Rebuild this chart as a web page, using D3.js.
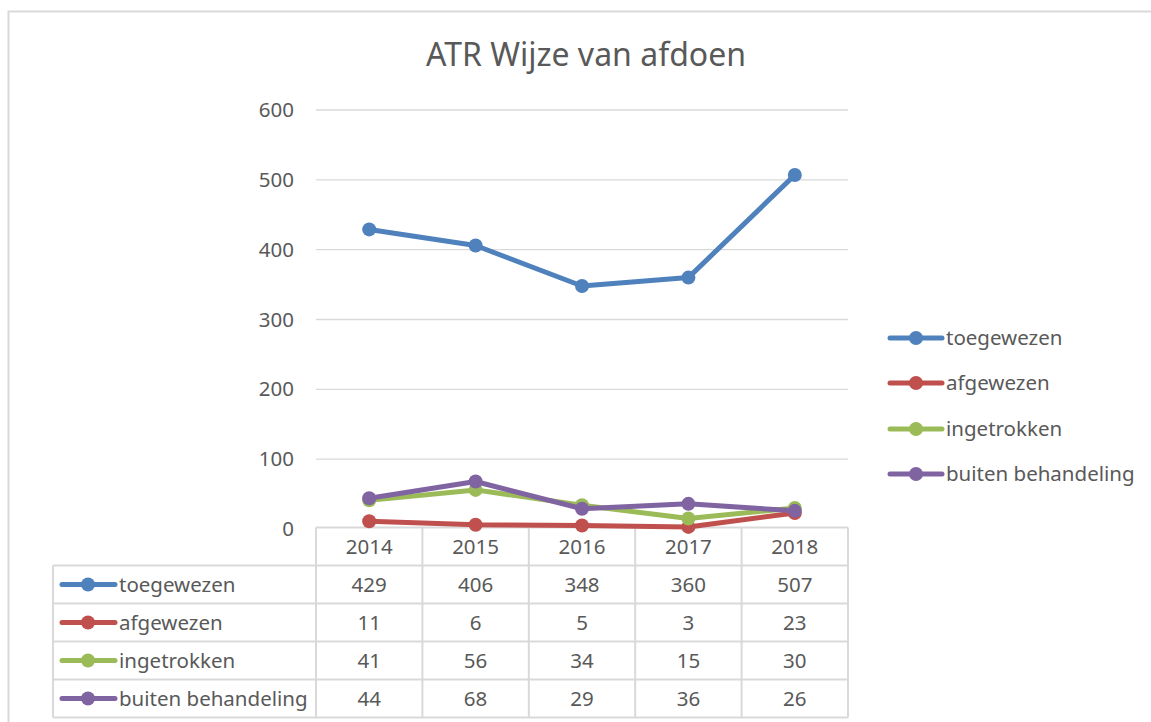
<!DOCTYPE html>
<html><head><meta charset="utf-8">
<script src="https://cdn.jsdelivr.net/npm/d3@7"></script>
<style>body{margin:0;background:#fff;} svg{display:block;}</style>
</head><body>
<script>
const categories = ["2014","2015","2016","2017","2018"];
const seriesNames = ["toegewezen","afgewezen","ingetrokken","buiten behandeling"];
const toegewezen = [429,406,348,360,507];
const afgewezen = [11,6,5,3,23];
const ingetrokken = [41,56,34,15,30];
const buitenBehandeling = [44,68,29,36,26];
const yTicks = [0,100,200,300,400,500,600];
const colors = ["#4F81BD","#C0504D","#9BBB59","#8064A2"];
const title = "ATR Wijze van afdoen";

const series = [toegewezen, afgewezen, ingetrokken, buitenBehandeling].map((v,i)=>({name:seriesNames[i], values:v, color:colors[i]}));

const W=1151,H=722;
const svg=d3.select("body").append("svg").attr("width",W).attr("height",H);
const font="'Noto Sans', sans-serif";
const txt="#595959", grid="#d9d9d9";
const fs=20.5, lw=5, mr=7;

// chart border
svg.append("rect").attr("x",8.5).attr("y",11.5).attr("width",1160).attr("height",730).attr("fill","none").attr("stroke","#d9d9d9").attr("stroke-width",2);

svg.append("text").attr("x",586).attr("y",66).attr("text-anchor","middle").attr("font-family",font).attr("font-size",32).attr("fill",txt).text(title);

const x0=316,x1=848;
const x=d3.scaleBand().domain(categories).range([x0,x1]);
const y=d3.scaleLinear().domain([0,600]).range([529,110]);

// gridlines
svg.append("g").selectAll("line").data(yTicks.filter(d=>d>0)).join("line")
 .attr("x1",x0).attr("x2",x1).attr("y1",d=>y(d)).attr("y2",d=>y(d)).attr("stroke",grid).attr("stroke-width",1.3);

const yAxis=d3.axisLeft(y).tickValues(yTicks).tickSize(0).tickPadding(22);
const ga=svg.append("g").attr("transform",`translate(${x0},0)`).call(yAxis);
ga.select(".domain").remove();
ga.selectAll("text").attr("font-family",font).attr("font-size",fs).attr("fill",txt);

// table
const rowH=38, tTop=527.5, lx=53;
const tb=svg.append("g");
const hl=[0,1,2,3,4,5];
tb.selectAll("line.h").data(hl).join("line").attr("class","h")
 .attr("x1",(d)=>d===0?x0:lx).attr("x2",x1).attr("y1",d=>tTop+d*rowH).attr("y2",d=>tTop+d*rowH).attr("stroke",grid).attr("stroke-width",2);
const vx=categories.map(c=>x(c)).concat([x1]);
tb.selectAll("line.v").data(vx).join("line").attr("class","v")
 .attr("x1",d=>d).attr("x2",d=>d).attr("y1",tTop).attr("y2",tTop+5*rowH).attr("stroke",grid).attr("stroke-width",2);
tb.append("line").attr("x1",lx).attr("x2",lx).attr("y1",tTop+rowH).attr("y2",tTop+5*rowH).attr("stroke",grid).attr("stroke-width",2);
tb.selectAll("text.hd").data(categories).join("text").attr("class","hd")
 .attr("x",d=>x(d)+x.bandwidth()/2).attr("y",tTop+rowH/2).attr("dy","0.35em").attr("text-anchor","middle")
 .attr("font-family",font).attr("font-size",fs).attr("fill",txt).text(d=>d);
series.forEach((s,i)=>{
  const cy=tTop+(i+1)*rowH+rowH/2;
  tb.append("line").attr("x1",62).attr("x2",115).attr("y1",cy).attr("y2",cy).attr("stroke",s.color).attr("stroke-width",lw).attr("stroke-linecap","round");
  tb.append("circle").attr("cx",88).attr("cy",cy).attr("r",mr).attr("fill",s.color);
  tb.append("text").attr("x",119).attr("y",cy).attr("dy","0.35em").attr("font-family",font).attr("font-size",fs).attr("fill",txt).text(s.name);
  tb.selectAll(null).data(s.values).join("text")
   .attr("x",(d,j)=>x(categories[j])+x.bandwidth()/2).attr("y",cy).attr("dy","0.35em").attr("text-anchor","middle")
   .attr("font-family",font).attr("font-size",fs).attr("fill",txt).text(d=>d);
});

// lines
const line=d3.line().x((d,j)=>x(categories[j])+x.bandwidth()/2).y(d=>y(d));
series.forEach(s=>{
  svg.append("path").datum(s.values).attr("d",line).attr("fill","none").attr("stroke",s.color).attr("stroke-width",lw).attr("stroke-linejoin","round").attr("stroke-linecap","round");
  svg.selectAll(null).data(s.values).join("circle")
   .attr("cx",(d,j)=>x(categories[j])+x.bandwidth()/2).attr("cy",d=>y(d)).attr("r",mr).attr("fill",s.color);
});

// legend
const lgY=[338,383,429,474];
series.forEach((s,i)=>{
  const cy=lgY[i];
  svg.append("line").attr("x1",890).attr("x2",942).attr("y1",cy).attr("y2",cy).attr("stroke",s.color).attr("stroke-width",lw).attr("stroke-linecap","round");
  svg.append("circle").attr("cx",916).attr("cy",cy).attr("r",mr).attr("fill",s.color);
  svg.append("text").attr("x",946).attr("y",cy).attr("dy","0.35em").attr("font-family",font).attr("font-size",fs).attr("fill",txt).text(s.name);
});
</script>
</body></html>
